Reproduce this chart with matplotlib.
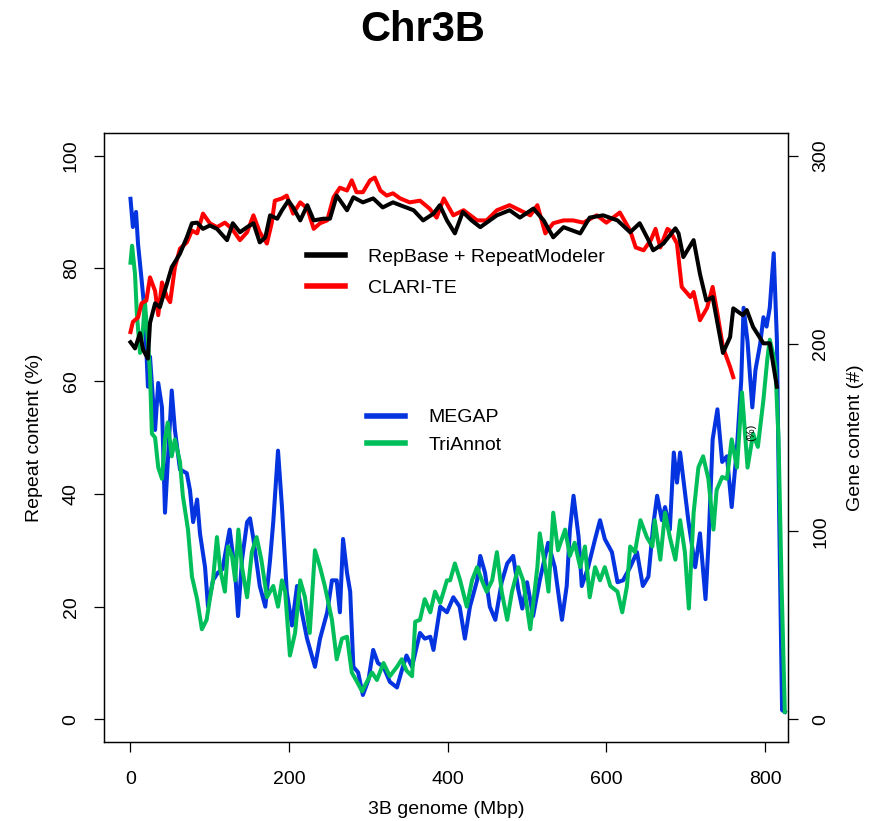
import matplotlib
matplotlib.use("Agg")
import matplotlib.pyplot as plt

plt.rcParams['font.family'] = ['Liberation Sans', 'DejaVu Sans']

# repeat content (%) along chromosome (Mbp)
rep_x = [0, 5.7, 12, 16, 22, 24.6, 31, 37, 46, 52, 62.4, 71, 77.5, 84, 91.4, 100, 109, 121.7, 129, 138,
         147, 155, 163, 170, 176, 185, 191, 199, 205, 214, 223, 231, 243, 251.5, 260, 273, 281, 293, 306, 318,
         331, 340, 357, 369, 382, 390, 399, 409, 419, 430, 441, 462, 478, 491, 508, 521, 533, 546, 567, 579,
         596, 614, 630, 642, 652, 659, 672, 687, 691, 697, 710, 718, 726, 734, 747, 756, 760, 772, 777, 785,
         798, 806, 815]
rep_y = [66.9, 65.8, 68.5, 65.5, 64, 70.3, 73.8, 73.1, 77.3, 80.2, 82.6, 85.5, 88, 88.1, 87, 87.6, 87, 85, 88, 86.4,
         87.3, 88, 84.6, 85.5, 89.4, 88.8, 90.3, 92, 90.8, 88.5, 91.2, 88.5, 88.8, 88.8, 92.9, 90.3, 92.6, 91.7, 92.4, 90.8,
         91.7, 91.2, 90.3, 88.5, 89.7, 91.2, 88.5, 86.2, 90, 88.5, 87.3, 89.4, 90.3, 89, 90.6, 88.5, 85.5, 87.3, 86.2, 89,
         89.4, 88.5, 86.4, 88, 85.3, 83.2, 84.4, 87.1, 86.2, 82, 85, 79, 74.3, 74.9, 65, 67.8, 72.9, 71.7, 72.6, 69.6,
         66.7, 66.7, 59]

clari_x = [0, 3, 9.5, 14, 20, 24.6, 31, 35, 39.7, 46, 50, 56, 62.4, 71, 77.5, 84, 91.4, 100, 109, 119,
           128, 138, 147, 155, 163, 172, 178, 182, 191, 197, 205, 214, 223, 231, 239, 248, 256, 264, 273, 279,
           285, 293, 302, 308, 315, 323, 331, 340, 352, 365, 377, 386, 395, 407, 420, 437, 449, 462, 478, 491,
           504, 513, 523, 533, 546, 558, 571, 588, 600, 617, 630, 637, 647, 656, 662, 668, 677, 680, 689, 695,
           706, 710, 718, 727, 734, 740, 747, 756, 760]
clari_y = [68.7, 70.5, 71.3, 73.8, 74.3, 78.4, 76, 71.7, 77.5, 74.9, 74, 80.2, 83.5, 84.6, 86.7, 86.2, 89.7, 88, 87.3, 88.1,
           87, 85, 86.4, 89.4, 86.4, 84.4, 88, 92, 92.4, 92.9, 89.7, 91.7, 90.6, 87, 88, 88.5, 92.6, 94.3, 93.8, 95.6,
           93.5, 93.5, 95.6, 96.1, 93.8, 92.9, 93.3, 92.4, 91.7, 92, 90.6, 89, 92.4, 89.4, 90.3, 88.5, 88.5, 90.3, 91.2, 90.3,
           89.4, 91.2, 86.2, 88, 88.5, 88.5, 88.1, 89.4, 88.1, 89.9, 86.7, 83.7, 83.2, 85, 87, 83.7, 87, 86.7, 84.4, 76.7,
           74.9, 75.8, 70.8, 73, 76.7, 72, 66, 62.5, 60.7]

# gene content (#)
megap_x = [0, 3, 7, 9.5, 14, 18, 22, 24.6, 29, 31, 35, 39.7, 43.5, 47, 52, 56, 62.4, 71, 75, 79,
           84, 87.6, 94, 97.7, 104, 110, 116, 125, 132, 135.6, 140.6, 147, 150.7, 155, 163, 170, 176, 180, 186, 191,
           197, 203.6, 210, 216, 222.6, 232.6, 239, 248, 254, 260, 264, 268, 273, 277, 281, 287, 293, 300, 306, 312,
           319, 327, 336, 342, 348, 355, 361, 365, 371, 378, 382, 390.5, 399, 407, 415, 421.6, 428, 437, 441, 447,
           453, 460, 468, 475, 482.5, 489, 494, 500, 507.6, 516, 526.6, 535, 544, 550, 554, 558.6, 565, 569, 577, 585.8,
           592, 598, 607, 614, 621, 630, 638.6, 646, 653, 659, 664, 670, 674, 680, 685, 689, 693, 697, 703.6, 712,
           718, 725, 728.6, 734, 740, 746, 752, 758, 764.7, 770, 773, 778, 784, 788, 794, 798, 802, 806, 811, 815,
           818, 821.5, 825]
megap_y = [277, 262, 270, 253, 234, 216, 177, 193, 166, 154, 179, 166, 110, 137, 175, 154, 133, 131, 122, 105,
           117, 99, 81, 60, 74, 78, 80, 101, 78, 55, 85, 105, 107, 96, 71, 60, 85, 105, 143, 113,
           68, 50, 71, 57, 43, 28, 43, 57, 74, 74, 57, 96, 78, 68, 28, 25, 13, 21, 37, 30,
           28, 20, 17, 26, 34, 28, 39, 46, 43, 44, 37, 60, 57, 65, 60, 43, 60, 74, 87, 78,
           60, 53, 73, 83, 87, 69, 59, 73, 55, 74, 94, 81, 53, 71, 101, 119, 97, 71, 81, 96,
           106, 96, 89, 73, 74, 81, 89, 71, 76, 103, 119, 106, 113, 101, 142, 126, 142, 128, 105, 81,
           99, 64, 92, 149, 165, 137, 140, 113, 145, 180, 219, 201, 166, 186, 200, 214, 209, 219, 248, 202,
           105, 5, 4]

tri_x = [0, 2, 5.7, 8, 12, 16, 18, 22, 24.6, 27, 31, 35, 39.7, 43.5, 47, 52, 56, 62.4, 66, 72.5,
         77.5, 84, 90, 96, 100, 104, 109, 113, 119, 123, 128, 132, 136, 140.6, 147, 153, 159, 165, 172, 180,
         186, 191, 195, 201, 207.5, 214, 220, 226, 232.6, 239, 245, 254, 260, 266.6, 273, 279, 285.6, 292, 298, 304.5,
         310.7, 319, 327, 336, 342, 348, 355, 359, 365, 371, 378, 384, 390.5, 399, 403, 409, 415.6, 424, 430.6, 437,
         443, 449, 456, 462, 468, 475, 481, 489, 495, 504, 513, 516, 523, 527, 533, 539, 548, 554, 560, 567,
         573, 579, 585.8, 592, 598, 605, 614, 620, 626, 630, 636, 643, 651, 658, 661, 668, 674, 680, 687, 693,
         699, 704, 710, 716, 722, 728.6, 735, 739, 746, 752, 758, 764.7, 771, 778, 785, 791, 798, 803, 806, 810,
         813, 817, 821, 825]
tri_y = [243, 252, 237, 216, 195, 209, 223, 201, 184, 152, 150, 134, 128, 149, 158, 140, 149, 137, 119, 101,
         76, 64, 48, 53, 64, 74, 97, 80, 68, 92, 87, 74, 101, 81, 65, 89, 97, 85, 65, 71,
         60, 74, 68, 34, 46, 74, 65, 46, 90, 81, 71, 53, 32, 43, 44, 25, 20, 15, 20, 25,
         21, 30, 23, 28, 32, 26, 23, 52, 53, 64, 57, 68, 62, 74, 74, 83, 74, 60, 74, 81,
         74, 68, 74, 89, 68, 53, 68, 81, 74, 48, 81, 99, 81, 68, 110, 90, 101, 87, 94, 81,
         92, 65, 81, 74, 81, 71, 68, 57, 71, 92, 89, 106, 97, 92, 106, 85, 110, 97, 85, 106,
         89, 59, 110, 134, 140, 128, 101, 122, 129, 128, 149, 134, 174, 134, 152, 145, 170, 192, 202, 195,
         188, 150, 70, 4]

fig = plt.figure(figsize=(8.81, 8.21), dpi=100)
ax = fig.add_axes([104 / 881, 79 / 821, 684 / 881, 609 / 821])
ax2 = ax.twinx()

b_line, = ax2.plot(megap_x, megap_y, color='#0433E0', lw=2.9, label='MEGAP')
g_line, = ax2.plot(tri_x, tri_y, color='#00BF5A', lw=2.9, label='TriAnnot')
r_line, = ax.plot(clari_x, clari_y, color='#FF0000', lw=2.9, label='CLARI-TE')
k_line, = ax.plot(rep_x, rep_y, color='black', lw=2.9, label='RepBase + RepeatModeler')

ax.set_zorder(ax2.get_zorder() + 1)
ax.patch.set_visible(False)

ax.set_xlim(-33.4, 829)
ax.set_ylim(-4, 104)
ax2.set_ylim(-12, 312)
ax.set_xticks([0, 200, 400, 600, 800])
ax.set_yticks([0, 20, 40, 60, 80, 100])
ax2.set_yticks([0, 100, 200, 300])

for a in (ax, ax2):
    for s in a.spines.values():
        s.set_linewidth(0.9)
    a.tick_params(direction='out', length=7.5, width=0.9, labelsize=14, colors='black')
ax.tick_params(axis='x', pad=13.5)
ax.tick_params(axis='y', pad=10, labelrotation=90)
ax2.tick_params(axis='y', pad=10, labelrotation=90)
for t in ax.get_yticklabels():
    t.set_va('center')
for t in ax2.get_yticklabels():
    t.set_va('center')

ax.set_xlabel('3B genome (Mbp)', fontsize=14, labelpad=9)
ax.set_ylabel('Repeat content (%)', fontsize=14, labelpad=14)
ax2.set_ylabel('Gene content (#)', fontsize=14, labelpad=13)
fig.text(0.48, 0.963, 'Chr3B', fontsize=30, fontweight='bold', ha='center', va='center')

leg1 = ax.legend(handles=[k_line, r_line], loc='upper left', bbox_to_anchor=(0.297, 0.811),
                 frameon=False, fontsize=14, handlelength=1.95, handletextpad=1.2,
                 borderpad=0, borderaxespad=0, labelspacing=0.69)
for ln in leg1.get_lines():
    ln.set_linewidth(4)
ax.add_artist(leg1)
leg2 = ax.legend(handles=[b_line, g_line], loc='upper left', bbox_to_anchor=(0.3845, 0.547),
                 frameon=False, fontsize=14, handlelength=1.95, handletextpad=1.2,
                 borderpad=0, borderaxespad=0, labelspacing=0.5)
for ln in leg2.get_lines():
    ln.set_linewidth(4)

ax.text(0.946, 0.509, '(%)', transform=ax.transAxes, fontsize=8, rotation=90,
        ha='center', va='center')

fig.savefig('out.png', dpi=100)
